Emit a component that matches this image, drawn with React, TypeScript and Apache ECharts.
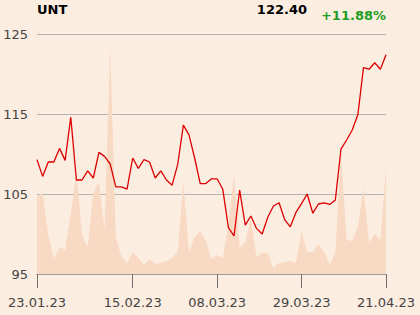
import React, { useEffect, useRef } from "react";
import * as echarts from "echarts";

const ticker = "UNT";
const lastPrice = "122.40";
const change = "+11.88%";

const prices = [
  109.3, 107.2, 109.0, 109.0, 110.7, 109.2, 114.6, 106.75, 106.75, 107.9,
  107.0, 110.2, 109.7, 108.75, 105.9, 105.9, 105.6, 109.5, 108.2, 109.3,
  109.0, 107.0, 107.9, 106.75, 106.1, 108.7, 113.6, 112.4, 109.5, 106.3,
  106.3, 106.9, 106.9, 105.6, 100.8, 99.75, 105.5, 101.1, 102.25, 100.7,
  100.0, 102.1, 103.5, 103.9, 101.8, 100.9, 102.7, 103.8, 105.0, 102.6,
  103.75, 103.9, 103.7, 104.25, 110.6, 111.75, 113.0, 114.9, 120.8, 120.6,
  121.4, 120.6, 122.4,
];

const volumes = [
  78, 81, 39, 15, 27, 24, 61, 101, 39, 27,
  81, 92, 44, 228, 37, 17, 11, 22, 16, 9,
  15, 10, 11, 13, 16, 22, 92, 22, 37, 43,
  33, 15, 19, 16, 49, 99, 26, 32, 56, 17,
  21, 21, 6, 11, 12, 13, 11, 43, 22, 22,
  30, 22, 9, 21, 120, 34, 33, 47, 86, 31,
  40, 34, 106,
];

const tickIndices = [0, 17, 32, 47, 62];
const tickLabels = ["23.01.23", "15.02.23", "08.03.23", "29.03.23", "21.04.23"];

const yTicks = [95, 105, 115, 125];

export default function App() {
  const ref = useRef<HTMLDivElement>(null);
  useEffect(() => {
    if (!ref.current) return;
    const chart = echarts.init(ref.current, null, { renderer: "svg" });
    const categories = prices.map((_, i) => String(i));
    const labelAt = (i: number) => {
      const k = tickIndices.indexOf(i);
      return k >= 0 ? tickLabels[k] : "";
    };
    const font = "DejaVu Sans";
    chart.setOption({
      animation: false,
      backgroundColor: "#FCEDE1",
      textStyle: { fontFamily: font },
      graphic: [
        {
          type: "text",
          left: 37,
          top: 3,
          style: { text: ticker, font: `bold 13px "${font}"`, fill: "#000" },
        },
        {
          type: "text",
          right: 113,
          top: 3,
          style: { text: lastPrice, font: `bold 13px "${font}"`, fill: "#000" },
        },
        {
          type: "text",
          right: 34,
          top: 9,
          style: { text: change, font: `bold 13px "${font}"`, fill: "#1F9E1F" },
        },
      ],
      grid: { left: 37, right: 34, top: 34, bottom: 41 },
      xAxis: {
        type: "category",
        data: categories,
        boundaryGap: false,
        axisLine: { show: true, lineStyle: { color: "#9A9A9A", width: 1 } },
        axisTick: {
          show: true,
          length: 14,
          lineStyle: { color: "#707070" },
          interval: (i: number) => tickIndices.includes(i),
        },
        axisLabel: {
          interval: (i: number) => tickIndices.includes(i),
          formatter: (_v: string, i: number) => labelAt(i),
          color: "#444",
          fontSize: 13,
          margin: 22,
          fontFamily: font,
          showMinLabel: true,
          showMaxLabel: true,
        },
        splitLine: { show: false },
      },
      yAxis: [
        {
          type: "value",
          min: yTicks[0],
          max: yTicks[yTicks.length - 1],
          interval: 10,
          axisLine: { show: false },
          axisTick: { show: false },
          axisLabel: { color: "#444", fontSize: 13, margin: 9, fontFamily: font },
          splitLine: { show: true, lineStyle: { color: "#B3B3B3", width: 1 } },
        },
        {
          type: "value",
          min: 0,
          max: 240,
          show: false,
          splitLine: { show: false },
        },
      ],
      series: [
        {
          type: "line",
          yAxisIndex: 1,
          data: volumes,
          symbol: "none",
          lineStyle: { width: 0 },
          areaStyle: { color: "#F8D9C3", opacity: 1 },
          z: 1,
        },
        {
          type: "line",
          yAxisIndex: 0,
          data: prices,
          symbol: "none",
          lineStyle: { color: "#DD0000", width: 1.3 },
          z: 3,
        },
      ],
    });
    return () => chart.dispose();
  }, []);
  return <div ref={ref} style={{ width: 420, height: 315, position: "absolute", left: 0, top: 0 }} />;
}
